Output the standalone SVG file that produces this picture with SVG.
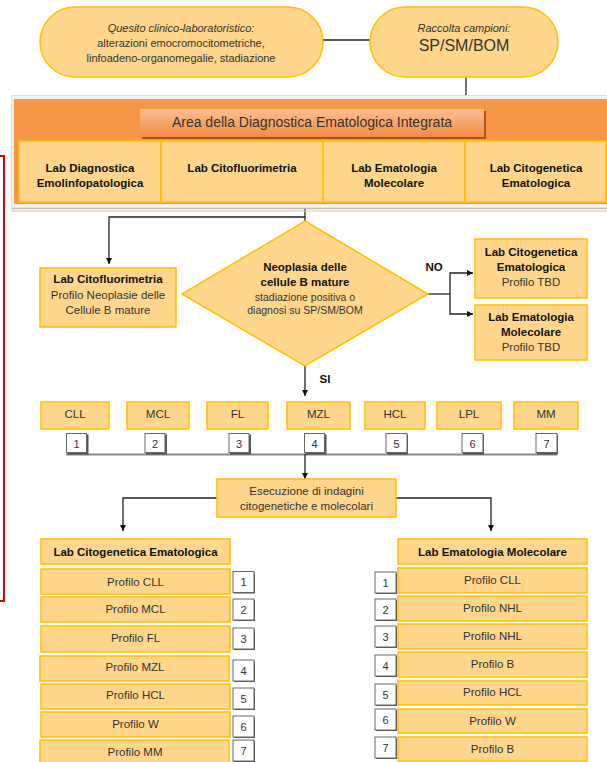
<svg xmlns="http://www.w3.org/2000/svg" width="607" height="762" viewBox="0 0 607 762">
<defs>
<marker id="ah" viewBox="0 0 10 10" refX="10" refY="5" markerWidth="6" markerHeight="6" orient="auto" markerUnits="userSpaceOnUse">
<path d="M0,0 L10,5 L0,10 z" fill="#111"/>
</marker>
<linearGradient id="btn" x1="0" y1="0" x2="0" y2="1">
<stop offset="0" stop-color="#FBC195"/>
<stop offset="0.5" stop-color="#F7A56A"/>
<stop offset="1" stop-color="#F28C45"/>
</linearGradient>
<style>
text{font-family:"Liberation Sans",Arial,sans-serif;fill:#333;text-anchor:middle}
.b{font-weight:bold;fill:#111}
.s11{font-size:11px}
.s115{font-size:11.5px}
.s105{font-size:10.5px}
.it{font-style:italic}
.box{fill:#FFD68C;stroke:#FFC000;stroke-width:1.5}
.nb{fill:#fff;stroke:#666;stroke-width:1}
.nbs{fill:#555}
.ln{fill:none;stroke:#222;stroke-width:1.3}
.ar{fill:none;stroke:#222;stroke-width:1.3;marker-end:url(#ah)}
</style>
</defs>

<!-- red bracket -->
<path d="M0,156 H4 V601 H0" fill="none" stroke="#E00000" stroke-width="2"/>

<g id="connectors">
<line class="ln" x1="323" y1="40" x2="370" y2="40"/>
<line class="ln" x1="466" y1="77" x2="466" y2="96"/>
<path class="ln" d="M305,209 V221"/>
<path class="ar" d="M305,217 H109 V264"/>
<path class="ln" d="M428,294 H450"/>
<path class="ar" d="M450,294 V273 H473"/>
<path class="ar" d="M450,294 V314 H473"/>
<path class="ar" d="M305,366 V396"/>
<line x1="66" y1="454.5" x2="557" y2="454.5" stroke="#888" stroke-width="2"/>
<path class="ar" d="M305,454 V479"/>
<path class="ar" d="M217,498 H123 V531"/>
<path class="ar" d="M396,498 H491 V531"/>
</g>

<g id="quesito">
<rect x="40" y="7" width="283" height="70" rx="35" ry="35" class="box"/>
<text x="181" y="32" class="s11 it">Quesito clinico-laboratoristico:</text>
<text x="181" y="47" class="s11">alterazioni emocromocitometriche,</text>
<text x="181" y="62" class="s11">linfoadeno-organomegalie, stadiazione</text>
</g>

<g id="raccolta">
<rect x="370" y="7" width="188" height="70" rx="35" ry="35" class="box"/>
<text x="464" y="32" class="s11 it">Raccolta campioni:</text>
<text x="464" y="51" style="font-size:16px">SP/SM/BOM</text>
</g>

<g id="area">
<rect x="11" y="95" width="600" height="114" fill="#F3F3F3"/>
<line x1="11" y1="95.5" x2="607" y2="95.5" stroke="#DDD"/>
<line x1="11" y1="208.5" x2="607" y2="208.5" stroke="#BDBDBD" stroke-width="1.5"/>
<line x1="11" y1="211" x2="607" y2="211" stroke="#EBBFA2" stroke-width="1"/>
<line x1="11.5" y1="95" x2="11.5" y2="209" stroke="#DDD"/>
<rect x="14" y="99" width="600" height="105" fill="#F79646"/>
<rect x="142" y="111" width="344" height="28" fill="#A9541C"/>
<rect x="140" y="109" width="344" height="28" fill="url(#btn)"/>
<text x="312" y="127" style="font-size:14px" fill="#222">Area della Diagnostica Ematologica Integrata</text>
</g>

<g id="lab-diagnostica">
<rect x="19" y="141" width="142" height="61" class="box"/>
<text x="90" y="172" class="b s115">Lab Diagnostica</text>
<text x="90" y="187" class="b s115">Emolinfopatologica</text>
</g>
<g id="lab-citofluorimetria">
<rect x="161" y="141" width="162" height="61" class="box"/>
<text x="242" y="172" class="b s115">Lab Citofluorimetria</text>
</g>
<g id="lab-ematologia">
<rect x="323" y="141" width="142" height="61" class="box"/>
<text x="394" y="172" class="b s115">Lab Ematologia</text>
<text x="394" y="187" class="b s115">Molecolare</text>
</g>
<g id="lab-citogenetica">
<rect x="465" y="141" width="141" height="61" class="box"/>
<text x="536" y="172" class="b s115">Lab Citogenetica</text>
<text x="536" y="187" class="b s115">Ematologica</text>
</g>

<g id="citofluo-profilo">
<rect x="40" y="268" width="136" height="59" class="box"/>
<text x="108" y="283" class="b s115">Lab Citofluorimetria</text>
<text x="108" y="299" class="s115">Profilo Neoplasie delle</text>
<text x="108" y="314" class="s115">Cellule B mature</text>
</g>

<g id="decisione">
<polygon points="305,221 428,294 305,366 182,294" fill="#FFD68C" stroke="#FFC000" stroke-width="1.5"/>
<text x="305" y="271" class="b s115">Neoplasia delle</text>
<text x="305" y="286" class="b s115">cellule B mature</text>
<text x="305" y="301" class="s105">stadiazione positiva o</text>
<text x="305" y="314" class="s105">diagnosi su SP/SM/BOM</text>
</g>

<text x="434" y="271" class="b s115">NO</text>
<text x="325" y="383" class="b s115">SI</text>

<g id="tbd-citogenetica">
<rect x="475" y="239" width="112" height="59" class="box"/>
<text x="531" y="256" class="b s115">Lab Citogenetica</text>
<text x="531" y="271" class="b s115">Ematologica</text>
<text x="531" y="286" class="s115">Profilo TBD</text>
</g>
<g id="tbd-ematologia">
<rect x="475" y="305" width="112" height="55" class="box"/>
<text x="531" y="321" class="b s115">Lab Ematologia</text>
<text x="531" y="336" class="b s115">Molecolare</text>
<text x="531" y="351" class="s115">Profilo TBD</text>
</g>

<g id="cat-cll"><rect x="41" y="402" width="68" height="27" class="box"/><text x="75" y="418" class="s115">CLL</text></g>
<g id="cat-mcl"><rect x="127" y="402" width="62" height="27" class="box"/><text x="158" y="418" class="s115">MCL</text></g>
<g id="cat-fl"><rect x="207" y="402" width="61" height="27" class="box"/><text x="237.5" y="418" class="s115">FL</text></g>
<g id="cat-mzl"><rect x="287" y="402" width="63" height="27" class="box"/><text x="318.5" y="418" class="s115">MZL</text></g>
<g id="cat-hcl"><rect x="365" y="402" width="60" height="27" class="box"/><text x="395" y="418" class="s115">HCL</text></g>
<g id="cat-lpl"><rect x="437" y="402" width="64" height="27" class="box"/><text x="469" y="418" class="s115">LPL</text></g>
<g id="cat-mm"><rect x="514" y="402" width="64" height="27" class="box"/><text x="546" y="418" class="s115">MM</text></g>

<g id="n1"><rect x="67.5" y="434.5" width="21" height="20" class="nbs"/><rect x="66.5" y="433.5" width="20" height="19" class="nb"/><text x="76.5" y="447.5" class="s11">1</text></g>
<g id="n2"><rect x="146" y="434.5" width="21" height="20" class="nbs"/><rect x="145" y="433.5" width="20" height="19" class="nb"/><text x="155" y="447.5" class="s11">2</text></g>
<g id="n3"><rect x="230" y="434.5" width="21" height="20" class="nbs"/><rect x="229" y="433.5" width="20" height="19" class="nb"/><text x="239" y="447.5" class="s11">3</text></g>
<g id="n4"><rect x="305.5" y="434.5" width="21" height="20" class="nbs"/><rect x="304.5" y="433.5" width="20" height="19" class="nb"/><text x="314.5" y="447.5" class="s11">4</text></g>
<g id="n5"><rect x="387" y="434.5" width="21" height="20" class="nbs"/><rect x="386" y="433.5" width="21" height="19" class="nb"/><text x="396.5" y="447.5" class="s11">5</text></g>
<g id="n6"><rect x="463" y="434.5" width="21" height="20" class="nbs"/><rect x="462" y="433.5" width="21" height="19" class="nb"/><text x="472.5" y="447.5" class="s11">6</text></g>
<g id="n7"><rect x="537" y="434.5" width="21" height="20" class="nbs"/><rect x="536" y="433.5" width="21" height="19" class="nb"/><text x="546.5" y="447.5" class="s11">7</text></g>

<g id="esecuzione">
<rect x="217" y="479" width="179" height="38" class="box"/>
<text x="306.5" y="495" class="s115">Esecuzione di indagini</text>
<text x="306.5" y="510" class="s115">citogenetiche e molecolari</text>
</g>

<!-- left list -->
<g id="cg-header"><rect x="41" y="539" width="189" height="25" class="box"/><text x="135.5" y="555.5" class="b s115">Lab Citogenetica Ematologica</text></g>
<g id="cg-1"><rect x="41" y="569" width="189" height="25" class="box"/><text x="135.5" y="585.5" class="s115">Profilo CLL</text>
<rect x="234" y="572.5" width="21" height="21" class="nbs"/><rect x="233" y="571.5" width="21" height="21" class="nb"/><text x="243.5" y="586" class="s11">1</text></g>
<g id="cg-2"><rect x="41" y="597" width="189" height="25" class="box"/><text x="135.5" y="613" class="s115">Profilo MCL</text>
<rect x="234" y="600" width="21" height="21" class="nbs"/><rect x="233" y="599" width="21" height="21" class="nb"/><text x="243.5" y="613.5" class="s11">2</text></g>
<g id="cg-3"><rect x="41" y="626" width="189" height="26" class="box"/><text x="135.5" y="642" class="s115">Profilo FL</text>
<rect x="234" y="629" width="21" height="21" class="nbs"/><rect x="233" y="628" width="21" height="21" class="nb"/><text x="243.5" y="642.5" class="s11">3</text></g>
<g id="cg-4"><rect x="40" y="656" width="189" height="25" class="box"/><text x="135" y="671" class="s115">Profilo MZL</text>
<rect x="234" y="661" width="21" height="21" class="nbs"/><rect x="233" y="660" width="21" height="21" class="nb"/><text x="243.5" y="674.5" class="s11">4</text></g>
<g id="cg-5"><rect x="41" y="684" width="189" height="25" class="box"/><text x="135.5" y="699" class="s115">Profilo HCL</text>
<rect x="234" y="689" width="21" height="21" class="nbs"/><rect x="233" y="688" width="21" height="21" class="nb"/><text x="243.5" y="702.5" class="s11">5</text></g>
<g id="cg-6"><rect x="41" y="712" width="189" height="25" class="box"/><text x="135.5" y="727.5" class="s115">Profilo W</text>
<rect x="234" y="717" width="21" height="21" class="nbs"/><rect x="233" y="716" width="21" height="21" class="nb"/><text x="243.5" y="730.5" class="s11">6</text></g>
<g id="cg-7"><rect x="40" y="740" width="189" height="25" class="box"/><text x="135" y="756" class="s115">Profilo MM</text>
<rect x="234" y="741" width="21" height="21" class="nbs"/><rect x="233" y="740" width="21" height="21" class="nb"/><text x="243.5" y="755" class="s11">7</text></g>

<!-- right list -->
<g id="em-header"><rect x="398" y="539" width="189" height="25" class="box"/><text x="492.5" y="555.5" class="b s115">Lab Ematologia Molecolare</text></g>
<g id="em-1"><rect x="398" y="568" width="189" height="25" class="box"/><text x="492.5" y="584" class="s115">Profilo CLL</text>
<rect x="376" y="573" width="21" height="21" class="nbs"/><rect x="375" y="572" width="21" height="21" class="nb"/><text x="385.5" y="586.5" class="s11">1</text></g>
<g id="em-2"><rect x="398" y="596" width="189" height="25" class="box"/><text x="492.5" y="612" class="s115">Profilo NHL</text>
<rect x="376" y="600" width="21" height="21" class="nbs"/><rect x="375" y="599" width="21" height="21" class="nb"/><text x="385.5" y="613.5" class="s11">2</text></g>
<g id="em-3"><rect x="398" y="624" width="189" height="25" class="box"/><text x="492.5" y="640" class="s115">Profilo NHL</text>
<rect x="376" y="627" width="21" height="21" class="nbs"/><rect x="375" y="626" width="21" height="21" class="nb"/><text x="385.5" y="640.5" class="s11">3</text></g>
<g id="em-4"><rect x="398" y="652" width="189" height="25" class="box"/><text x="492.5" y="668" class="s115">Profilo B</text>
<rect x="376" y="656" width="21" height="21" class="nbs"/><rect x="375" y="655" width="21" height="21" class="nb"/><text x="385.5" y="669.5" class="s11">4</text></g>
<g id="em-5"><rect x="398" y="681" width="189" height="24" class="box"/><text x="492.5" y="696" class="s115">Profilo HCL</text>
<rect x="376" y="685" width="21" height="21" class="nbs"/><rect x="375" y="684" width="21" height="21" class="nb"/><text x="385.5" y="698.5" class="s11">5</text></g>
<g id="em-6"><rect x="398" y="709" width="189" height="24" class="box"/><text x="492.5" y="724.5" class="s115">Profilo W</text>
<rect x="376" y="710" width="21" height="21" class="nbs"/><rect x="375" y="709" width="21" height="21" class="nb"/><text x="385.5" y="723.5" class="s11">6</text></g>
<g id="em-7"><rect x="398" y="737" width="189" height="24" class="box"/><text x="492.5" y="752.5" class="s115">Profilo B</text>
<rect x="376" y="738" width="21" height="21" class="nbs"/><rect x="375" y="737" width="21" height="21" class="nb"/><text x="385.5" y="751.5" class="s11">7</text></g>
</svg>
